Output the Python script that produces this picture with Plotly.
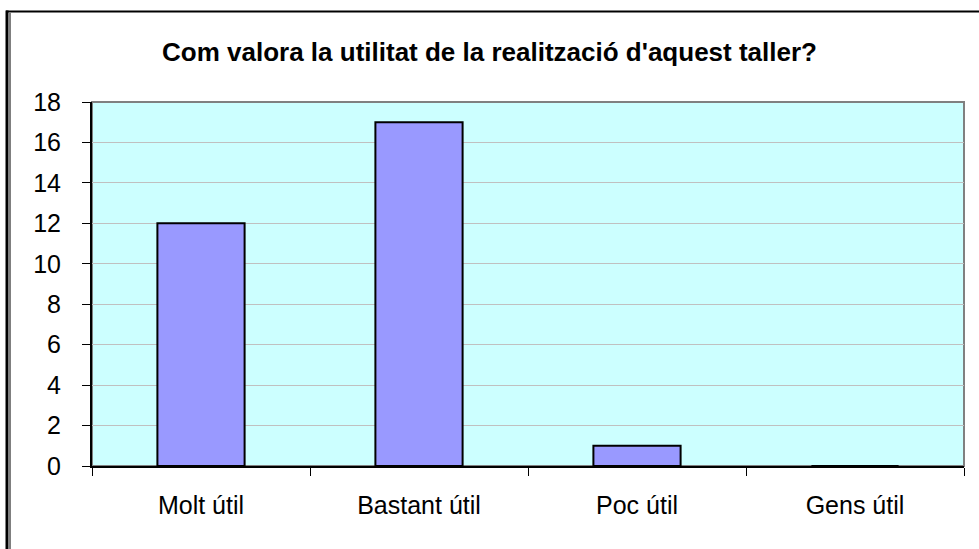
import plotly.graph_objects as go

categories = ["Molt útil", "Bastant útil", "Poc útil", "Gens útil"]
values = [12, 17, 1, 0]
y_ticks = [0, 2, 4, 6, 8, 10, 12, 14, 16, 18]
title_text = "Com valora la utilitat de la realització d'aquest taller?"

W, H = 979, 549
L, R, T, B = 92, 15, 102, 83
pw, ph = W - L - R, H - T - B

def px(x):
    return (x - L) / pw

def py(y):
    return (H - B - y) / ph

fig = go.Figure()
fig.add_trace(go.Bar(
    x=categories, y=values, width=0.4,
    marker=dict(color="#9999FF", line=dict(color="black", width=2)),
))

shapes = [
    dict(type="rect", xref="paper", yref="paper", x0=0, y0=0, x1=1, y1=1,
         line=dict(color="#808080", width=2), layer="below"),
    dict(type="line", xref="paper", yref="paper", x0=px(6), x1=px(990), y0=py(11.5), y1=py(11.5),
         line=dict(color="black", width=2)),
    dict(type="line", xref="paper", yref="paper", x0=px(7), x1=px(7), y0=py(10.5), y1=py(560),
         line=dict(color="black", width=3)),
    dict(type="line", xref="paper", yref="paper", x0=px(10), x1=px(10), y0=py(13), y1=py(560),
         line=dict(color="black", width=1)),
]

fig.update_layout(
    width=W, height=H,
    margin=dict(l=L, r=R, t=T, b=B, pad=0),
    paper_bgcolor="white", plot_bgcolor="#CCFFFF",
    showlegend=False,
    font=dict(family="Liberation Sans, Arial, sans-serif", color="black"),
    title=dict(text="<b>" + title_text + "</b>", x=0.5, xanchor="center", y=1 - 52 / H, yanchor="middle",
               font=dict(size=26, color="black")),
    shapes=shapes,
)
fig.update_xaxes(
    showline=True, linecolor="black", linewidth=2,
    ticks="outside", tickson="boundaries", ticklen=8, tickcolor="black", tickwidth=1,
    showgrid=False, tickfont=dict(size=25), ticklabelstandoff=16,
)
fig.update_yaxes(
    range=[0, 18], tickvals=y_ticks, showline=True, linecolor="black", linewidth=2,
    ticks="outside", ticklen=8, tickcolor="black", tickwidth=1,
    showgrid=True, gridcolor="#C0C0C0", gridwidth=1, zeroline=False,
    tickfont=dict(size=25), ticklabelstandoff=16,
)

fig.write_html("out.html", config={"displayModeBar": False})
with open("out.html", "r", encoding="utf-8") as f:
    html = f.read()
html = html.replace("<head>", "<head><style>html,body{margin:0;padding:0;overflow:hidden;}</style>", 1)
with open("out.html", "w", encoding="utf-8") as f:
    f.write(html)
